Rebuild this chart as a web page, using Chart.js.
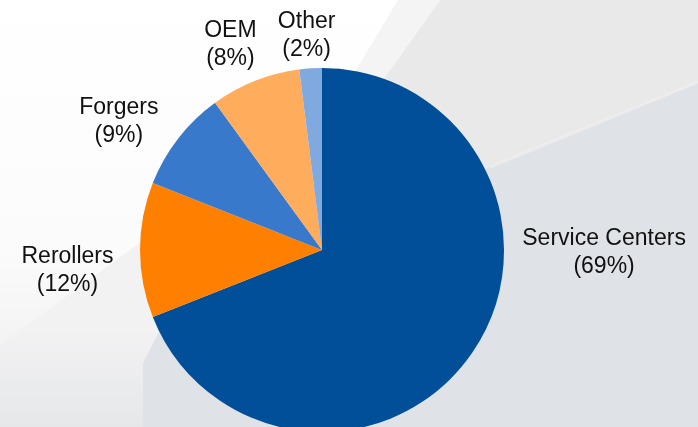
<!DOCTYPE html>
<html>
<head>
<meta charset="utf-8">
<script src="https://cdn.jsdelivr.net/npm/chart.js@4/dist/chart.umd.min.js"></script>
<style>
  html, body { margin: 0; padding: 0; overflow: hidden; background: #dfe2e6; }
  #wrap { position: relative; width: 698px; height: 427px; }
</style>
</head>
<body>
<div id="wrap"><canvas id="pie"></canvas></div>
<script>
// ---------- Data ----------
const categories = ["Service Centers", "Rerollers", "Forgers", "OEM", "Other"];
const shares = [69, 12, 9, 8, 2];
const sliceColors = ["#004f98", "#ff8000", "#3879cc", "#ffad5c", "#80aadf"];

// label spots: angle (deg, clockwise from top) and distance as a multiple of the radius
const labelSpots = [
  { angle: 90.6, dist: 1.55 },
  { angle: 265.3, dist: 1.403 },
  { angle: 302.2, dist: 1.319 },
  { angle: 336, dist: 1.237 },
  { angle: 355.9, dist: 1.183 }
];

// ---------- Background (slide-like grey swooshes) ----------
const slideBackground = {
  id: "slideBackground",
  beforeDraw(chart) {
    const ctx = chart.ctx;
    const w = chart.width, h = chart.height;
    ctx.save();
    ctx.fillStyle = "#dfe2e6";
    ctx.fillRect(0, 0, w, h);

    // upper right light grey
    ctx.fillStyle = "#e9e9ea";
    ctx.beginPath();
    ctx.moveTo(430, 0); ctx.lineTo(w, 0); ctx.lineTo(w, 83);
    ctx.lineTo(490, 167); ctx.lineTo(300, 250); ctx.lineTo(250, 250);
    ctx.closePath(); ctx.fill();

    // soft light streak along the grey boundary
    ctx.strokeStyle = "rgba(238,238,239,0.8)";
    ctx.lineWidth = 3;
    ctx.beginPath(); ctx.moveTo(w, 82); ctx.lineTo(490, 167); ctx.stroke();

    // white diagonal band on the left
    const g = ctx.createLinearGradient(0, 0, 0, 360);
    g.addColorStop(0, "#ffffff");
    g.addColorStop(0.7, "#fbfbfb");
    g.addColorStop(1, "#f2f2f3");
    ctx.fillStyle = g;
    ctx.beginPath();
    ctx.moveTo(0, 0); ctx.lineTo(440, 0); ctx.lineTo(383, 80);
    ctx.lineTo(240, 300); ctx.lineTo(0, 345);
    ctx.closePath(); ctx.fill();

    // transition strip next to the white band at the top
    ctx.fillStyle = "#f4f4f4";
    ctx.beginPath();
    ctx.moveTo(398, 0); ctx.lineTo(440, 0); ctx.lineTo(383, 80); ctx.lineTo(350, 80);
    ctx.closePath(); ctx.fill();

    // lower left greyish area
    const g2 = ctx.createLinearGradient(0, 330, 0, h);
    g2.addColorStop(0, "#f2f2f3");
    g2.addColorStop(1, "#e6e7e9");
    ctx.fillStyle = g2;
    ctx.beginPath();
    ctx.moveTo(0, 345); ctx.lineTo(160, 228); ctx.lineTo(160, 330);
    ctx.lineTo(143, 363); ctx.lineTo(143, h); ctx.lineTo(0, h);
    ctx.closePath(); ctx.fill();
    ctx.restore();
  }
};

// ---------- Outside labels ----------
const outsideLabels = {
  id: "outsideLabels",
  afterDatasetsDraw(chart, args, opts) {
    const ctx = chart.ctx;
    const meta = chart.getDatasetMeta(0);
    ctx.save();
    ctx.fillStyle = "#111111";
    ctx.font = "23px 'Liberation Sans', Arial, sans-serif";
    ctx.textAlign = "center";
    ctx.textBaseline = "middle";
    meta.data.forEach((arc, i) => {
      const spot = opts.spots[i];
      const a = spot.angle * Math.PI / 180;
      const r = arc.outerRadius * spot.dist;
      const cx = arc.x + Math.sin(a) * r;
      const cy = arc.y - Math.cos(a) * r;
      const lines = [chart.data.labels[i], "(" + chart.data.datasets[0].data[i] + "%)"];
      const lh = 28;
      lines.forEach((t, k) => {
        ctx.fillText(t, cx, cy + (k - (lines.length - 1) / 2) * lh);
      });
    });
    ctx.restore();
  }
};

new Chart(document.getElementById("pie"), {
  type: "pie",
  data: {
    labels: categories,
    datasets: [{
      data: shares,
      backgroundColor: sliceColors,
      borderWidth: 0,
      radius: 182
    }]
  },
  options: {
    responsive: true,
    maintainAspectRatio: false,
    animation: false,
    devicePixelRatio: 1,
    layout: { padding: { top: 73, right: 54, bottom: 0, left: 0 } },
    plugins: {
      legend: { display: false },
      tooltip: { enabled: false },
      outsideLabels: { spots: labelSpots }
    }
  },
  plugins: [slideBackground, outsideLabels]
});
</script>
</body>
</html>
